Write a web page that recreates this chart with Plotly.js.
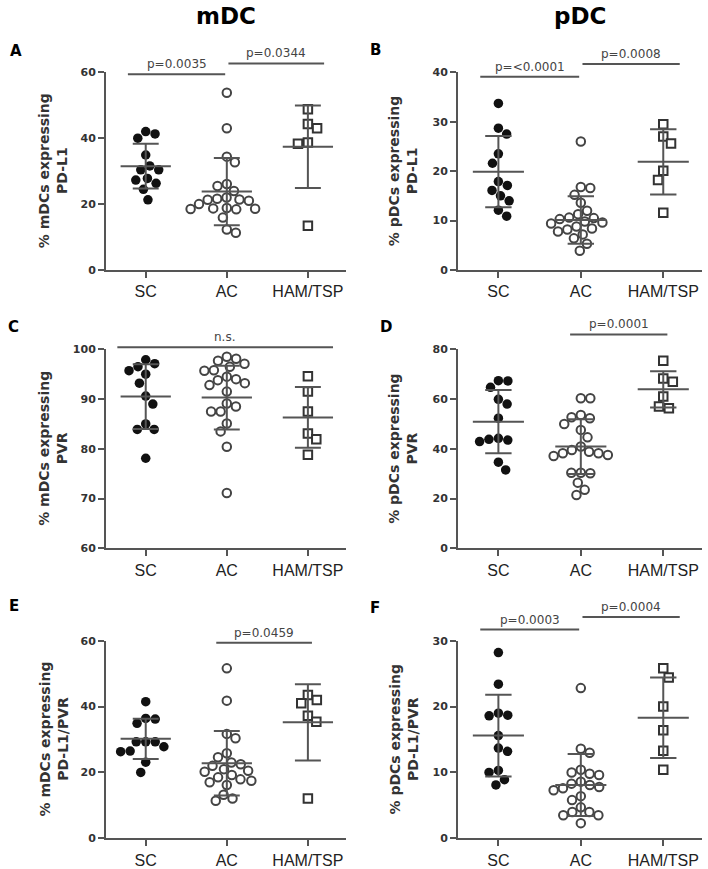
<!DOCTYPE html>
<html><head><meta charset="utf-8">
<script src="https://cdn.plot.ly/plotly-3.0.1.min.js"></script>
<style>html,body{margin:0;padding:0;background:#fff}#chart{width:708px;height:869px}</style>
</head><body><div id="chart"></div>
<script>
// ---------------- DATA ----------------
const groups = ['SC', 'AC', 'HAM/TSP'];
const columnTitles = ['mDC', 'pDC'];
const panelLetters = ['A', 'B', 'C', 'D', 'E', 'F'];
const yTitles = [
  '% mDCs expressing<br>PD-L1', '% pDCs expressing<br>PD-L1',
  '% mDCs expressing<br>PVR', '% pDCs expressing<br>PVR',
  '% mDCs expressing<br>PD-L1/PVR', '% pDCs expressing<br>PD-L1/PVR'
];
const yRanges = [[0, 60], [0, 40], [60, 100], [0, 80], [0, 60], [0, 30]];
const yDticks = [20, 10, 10, 20, 20, 10];

// Panel A: mDC PD-L1
const scA = [42.0, 41.3, 40.0, 34.9, 31.6, 30.4, 30.4, 27.8, 27.3, 26.3, 24.5, 21.3];
const acA = [53.8, 43.0, 34.4, 32.7, 26.1, 25.5, 24.0, 22.0, 21.6, 21.4, 21.3, 21.0, 20.0, 18.8, 18.7, 18.6, 18.5, 18.4, 15.9, 12.3, 11.3];
const hamA = [48.8, 44.3, 43.0, 38.7, 38.3, 13.4];
const meanA = [31.5, 23.8, 37.4];
const sdA = [6.8, 10.2, 12.5];

// Panel B: pDC PD-L1
const scB = [33.7, 28.7, 27.5, 23.5, 21.6, 17.9, 17.1, 16.1, 15.0, 14.0, 12.1, 10.9];
const acB = [26.0, 16.8, 16.6, 15.2, 13.6, 12.0, 11.3, 10.6, 10.5, 10.3, 9.8, 9.6, 9.4, 8.8, 8.4, 8.2, 7.8, 7.2, 6.4, 5.3, 3.9];
const hamB = [29.5, 27.0, 25.6, 20.1, 18.2, 11.6];
const meanB = [19.9, 10.1, 21.9];
const sdB = [7.2, 4.8, 6.6];

// Panel C: mDC PVR
const scC = [97.9, 97.1, 96.5, 95.7, 95.0, 93.2, 90.6, 89.0, 85.0, 83.9, 83.9, 78.1];
const acC = [98.5, 98.1, 97.7, 97.1, 96.5, 95.8, 95.7, 94.5, 94.0, 93.8, 93.2, 92.8, 91.5, 89.1, 88.5, 87.5, 87.5, 85.1, 83.5, 80.4, 71.1];
const hamC = [94.6, 91.5, 87.5, 83.1, 81.9, 78.8];
const meanC = [90.5, 90.3, 86.3];
const sdC = [6.5, 6.4, 6.1];

// Panel D: pDC PVR
const scD = [67.4, 67.3, 64.7, 59.9, 58.0, 52.3, 44.2, 43.8, 43.5, 42.9, 34.6, 31.5];
const acD = [60.3, 60.3, 53.6, 52.7, 52.3, 50.0, 47.6, 44.6, 40.9, 39.5, 38.8, 38.2, 38.2, 37.5, 37.1, 30.4, 30.4, 30.2, 26.4, 23.5, 21.4];
const hamD = [75.4, 68.3, 67.0, 61.0, 57.0, 56.3];
const meanD = [50.9, 40.9, 63.9];
const sdD = [12.7, 11.0, 7.3];

// Panel E: mDC PD-L1/PVR
const scE = [41.5, 36.4, 36.2, 34.9, 29.3, 29.3, 29.3, 27.8, 26.5, 26.3, 23.1, 20.0];
const acE = [51.6, 41.8, 31.7, 30.4, 25.8, 24.6, 23.0, 22.5, 22.0, 21.0, 20.5, 20.2, 19.2, 18.5, 17.9, 17.5, 17.0, 16.2, 13.2, 12.1, 11.4];
const hamE = [43.5, 42.0, 41.0, 37.2, 35.4, 12.1];
const meanE = [30.2, 22.8, 35.2];
const sdE = [6.1, 9.8, 11.6];

// Panel F: pDC PD-L1/PVR
const scF = [28.2, 23.4, 19.0, 18.7, 18.6, 15.6, 13.7, 13.2, 10.3, 10.0, 8.9, 8.1];
const acF = [22.8, 13.6, 13.0, 10.4, 10.0, 9.8, 9.6, 8.6, 8.3, 8.1, 7.8, 7.6, 7.3, 6.4, 5.8, 4.7, 4.0, 4.0, 3.5, 3.5, 2.3];
const hamF = [25.8, 24.4, 20.0, 16.4, 13.3, 10.4];
const meanF = [15.6, 8.1, 18.3];
const sdF = [6.2, 4.7, 6.1];

// significance annotations
const sigLabelsA = ['p=0.0035', 'p=0.0344'];  const sigLevelsA = [59.4, 62.7];
const sigLabelsB = ['p=<0.0001', 'p=0.0008']; const sigLevelsB = [39.1, 41.7];
const sigLabelsC = ['n.s.'];                  const sigLevelsC = [100.4];
const sigLabelsD = ['p=0.0001'];              const sigLevelsD = [86.0];
const sigLabelsE = ['p=0.0459'];              const sigLevelsE = [59.4];
const sigLabelsF = ['p=0.0003', 'p=0.0004'];  const sigLevelsF = [31.7, 33.6];
const sigPairsA = [[0, 1], [1, 2]];
const sigPairsB = [[0, 1], [1, 2]];
const sigPairsC = [[0, 2]];
const sigPairsD = [[1, 2]];
const sigPairsE = [[1, 2]];
const sigPairsF = [[0, 1], [1, 2]];

// ---------------- LAYOUT GEOMETRY / STYLE ----------------
const W = 708, H = 869;
const colPx = [[106, 346], [458, 702]];
const rowPx = [[72.3, 270], [349.3, 548.3], [640.7, 838.3]];
const xRange = [-0.49, 2.47];
const titleXPx = [53, 403];
const letterXPx = [[8, 368], [6, 378], [7, 368]];
const letterYPx = [[40, 39], [316, 316], [595, 597]];
const AXC = '#555';

const panels = [
  {sc: scA, ac: acA, ham: hamA, mean: meanA, sd: sdA, sigL: sigLabelsA, sigY: sigLevelsA, sigP: sigPairsA},
  {sc: scB, ac: acB, ham: hamB, mean: meanB, sd: sdB, sigL: sigLabelsB, sigY: sigLevelsB, sigP: sigPairsB},
  {sc: scC, ac: acC, ham: hamC, mean: meanC, sd: sdC, sigL: sigLabelsC, sigY: sigLevelsC, sigP: sigPairsC},
  {sc: scD, ac: acD, ham: hamD, mean: meanD, sd: sdD, sigL: sigLabelsD, sigY: sigLevelsD, sigP: sigPairsD},
  {sc: scE, ac: acE, ham: hamE, mean: meanE, sd: sdE, sigL: sigLabelsE, sigY: sigLevelsE, sigP: sigPairsE},
  {sc: scF, ac: acF, ham: hamF, mean: meanF, sd: sdF, sigL: sigLabelsF, sigY: sigLevelsF, sigP: sigPairsF}
];

// beeswarm (elliptical collision sx by sy px): offsets in category units
function swarm(vals, pxPerY, pxPerX, sx, sy) {
  const placed = [];
  let side = 1;
  return vals.map(v => {
    const y = v * pxPerY;
    const ivs = [];
    placed.forEach(p => {
      const dy = Math.abs(p.y - y);
      if (dy < sy) { const h = sx * Math.sqrt(1 - (dy / sy) * (dy / sy)); ivs.push([p.x - h, p.x + h]); }
    });
    const cands = [0];
    ivs.forEach(iv => cands.push(iv[0], iv[1]));
    cands.sort((a, b) => (Math.abs(a) - Math.abs(b)) || (side * (b - a)));
    let x = 0;
    for (const c of cands) {
      if (ivs.every(iv => c <= iv[0] + 1e-6 || c >= iv[1] - 1e-6)) { x = c; break; }
    }
    if (x !== 0) side = -side;
    placed.push({x, y});
    return x / pxPerX;
  });
}

const traces = [];
const shapes = [];
const annotations = [];
const layout = {
  width: W, height: H, margin: {l: 0, r: 0, t: 0, b: 0},
  paper_bgcolor: '#fff', plot_bgcolor: 'rgba(0,0,0,0)', showlegend: false,
  font: {family: 'Liberation Sans, Arial, sans-serif', color: '#333'}
};

panels.forEach((p, i) => {
  const row = Math.floor(i / 2), col = i % 2;
  const sfx = i === 0 ? '' : String(i + 1);
  const xa = 'x' + sfx, ya = 'y' + sfx;
  const [x0, x1] = colPx[col];
  const [y0, y1] = rowPx[row];
  const yr = yRanges[i];
  const pxPerY = (y1 - y0) / (yr[1] - yr[0]);
  const pxPerX = (x1 - x0) / (xRange[1] - xRange[0]);

  layout['xaxis' + sfx] = {
    domain: [x0 / W, x1 / W], range: xRange, anchor: ya,
    tickmode: 'array', tickvals: [0, 1, 2], ticktext: groups,
    showline: true, linecolor: AXC, linewidth: 2,
    ticks: 'outside', ticklen: 6, tickwidth: 2, tickcolor: AXC,
    showgrid: false, zeroline: false, fixedrange: true,
    tickfont: {family: 'Liberation Sans, Arial, sans-serif', size: 16, color: '#222'}
  };
  layout['yaxis' + sfx] = {
    domain: [1 - y1 / H, 1 - y0 / H], range: yr, anchor: xa,
    tick0: yr[0], dtick: yDticks[i],
    showline: true, linecolor: AXC, linewidth: 2,
    ticks: 'outside', ticklen: 6, tickwidth: 2, tickcolor: AXC,
    showgrid: false, zeroline: false, fixedrange: true,
    tickfont: {family: 'DejaVu Sans, sans-serif', size: 11, color: '#333', weight: 'bold'}
  };

  const offSC = swarm(p.sc, pxPerY, pxPerX, 9.5, 12);
  const offAC = swarm(p.ac, pxPerY, pxPerX, 9.5, 10.5);
  const offHAM = swarm(p.ham, pxPerY, pxPerX, 10, 11);

  traces.push({
    type: 'scatter', mode: 'markers', xaxis: xa, yaxis: ya, cliponaxis: false,
    x: offSC.map(o => 0 + o), y: p.sc,
    marker: {symbol: 'circle', size: 9.5, color: '#111', line: {width: 0}}, hoverinfo: 'y'
  });
  traces.push({
    type: 'scatter', mode: 'markers', xaxis: xa, yaxis: ya, cliponaxis: false,
    x: offAC.map(o => 1 + o), y: p.ac,
    marker: {symbol: 'circle', size: 8.5, color: '#fff', line: {width: 2, color: '#444'}}, hoverinfo: 'y'
  });
  traces.push({
    type: 'scatter', mode: 'markers', xaxis: xa, yaxis: ya, cliponaxis: false,
    x: offHAM.map(o => 2 + o), y: p.ham,
    marker: {symbol: 'square', size: 8.5, color: '#fff', line: {width: 2, color: '#333'}}, hoverinfo: 'y'
  });

  // mean +/- SD
  const xs = [], ys = [];
  p.mean.forEach((m, g) => {
    const s = p.sd[g];
    xs.push(g - 0.31, g + 0.31, null, g - 0.16, g + 0.16, null, g - 0.16, g + 0.16, null, g, g, null);
    ys.push(m, m, null, m + s, m + s, null, m - s, m - s, null, m - s, m + s, null);
  });
  traces.push({
    type: 'scatter', mode: 'lines', xaxis: xa, yaxis: ya, x: xs, y: ys,
    line: {color: '#555', width: 2}, hoverinfo: 'skip', connectgaps: false
  });

  // significance bars
  const fx = v => (v - xRange[0]) / (xRange[1] - xRange[0]);
  const fy = v => (v - yr[0]) / (yr[1] - yr[0]);
  p.sigP.forEach((pair, k) => {
    const a = pair[0] === 0 && pair[1] === 2 ? -0.35 : (pair[0] === 0 ? -0.22 : (p.sigP.length > 1 ? 1.02 : 0.87));
    const b = pair[0] === 0 && pair[1] === 2 ? 2.31 : (pair[1] === 1 ? 0.98 : (p.sigP.length > 1 ? 2.2 : 2.05));
    shapes.push({
      type: 'line', xref: xa + ' domain', yref: ya + ' domain',
      x0: fx(a), x1: fx(b), y0: fy(p.sigY[k]), y1: fy(p.sigY[k]),
      line: {color: '#555', width: 2}
    });
    annotations.push({
      xref: xa + ' domain', yref: ya + ' domain', x: fx((a + b) / 2), y: fy(p.sigY[k]),
      xanchor: 'center', yanchor: 'bottom', yshift: 1, showarrow: false, text: p.sigL[k],
      font: {family: 'DejaVu Sans, sans-serif', size: 12, color: '#444'}
    });
  });

  // y-axis title
  annotations.push({
    xref: 'paper', yref: 'paper', x: titleXPx[col] / W, y: 1 - ((y0 + y1) / 2) / H,
    xanchor: 'center', yanchor: 'middle', textangle: -90, showarrow: false,
    text: yTitles[i],
    font: {family: 'DejaVu Sans, sans-serif', size: 14, color: '#333', weight: 'bold'}
  });
  // panel letter
  annotations.push({
    xref: 'paper', yref: 'paper', x: letterXPx[row][col] / W, y: 1 - letterYPx[row][col] / H,
    xanchor: 'left', yanchor: 'top', showarrow: false, text: panelLetters[i],
    font: {family: 'DejaVu Sans, sans-serif', size: 15, color: '#000', weight: 'bold'}
  });
});

// column titles
columnTitles.forEach((t, c) => {
  annotations.push({
    xref: 'paper', yref: 'paper', x: ((colPx[c][0] + colPx[c][1]) / 2) / W, y: 1 - 1 / H,
    xanchor: 'center', yanchor: 'top', showarrow: false, text: t,
    font: {family: 'DejaVu Sans, sans-serif', size: 23, color: '#000', weight: 'bold'}
  });
});

layout.shapes = shapes;
layout.annotations = annotations;

Plotly.newPlot('chart', traces, layout, {displayModeBar: false, staticPlot: true});
</script>
</body></html>
